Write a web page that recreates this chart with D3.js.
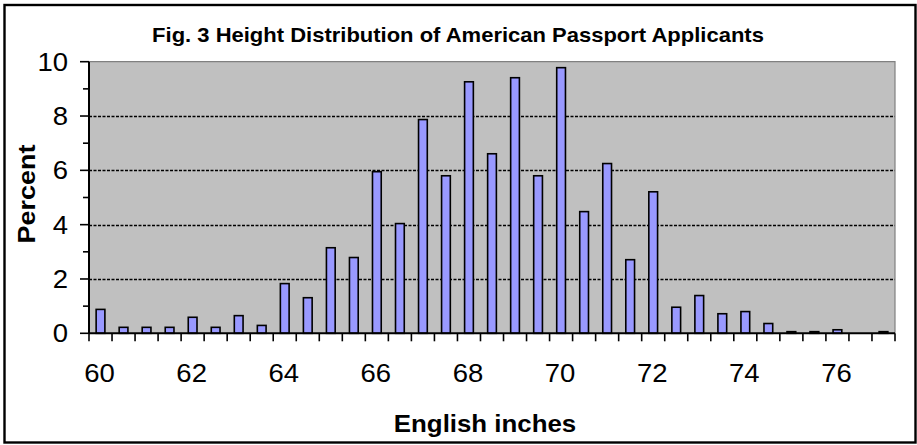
<!DOCTYPE html>
<html>
<head>
<meta charset="utf-8">
<script src="https://cdn.jsdelivr.net/npm/d3@7"></script>
<style>
  html, body { margin: 0; padding: 0; background: #fff; }
  svg { display: block; font-family: "Liberation Sans", Arial, sans-serif; }
</style>
</head>
<body>
<svg id="chart" width="917" height="445"></svg>
<script>
// ---- data ----
const heights = ["60","60.5","61","61.5","62","62.5","63","63.5","64","64.5","65","65.5",
  "66","66.5","67","67.5","68","68.5","69","69.5","70","70.5","71","71.5","72","72.5",
  "73","73.5","74","74.5","75","75.5","76","76.5","77"];
const percents = [0.88,0.22,0.22,0.22,0.59,0.22,0.65,0.29,1.83,1.31,3.15,2.79,
  5.95,4.04,7.87,5.80,9.26,6.61,9.41,5.80,9.78,4.48,6.25,2.71,5.21,0.96,
  1.39,0.72,0.80,0.36,0.06,0.06,0.13,0,0.06];
const xTickLabels = ["60","62","64","66","68","70","72","74","76"];
const yMajorTicks = [0,2,4,6,8,10];
const yMinorTicks = [1,3,5,7,9];
const titleText = "Fig. 3 Height Distribution of American Passport Applicants";
const xTitle = "English inches";
const yTitle = "Percent";

// ---- layout ----
const plot = { left: 89, right: 895, top: 61.7, bottom: 333.3 };
const stretch = 1.1;
const svg = d3.select("#chart");

const x = d3.scaleBand().domain(heights).range([plot.left, plot.right])
  .paddingInner(0.62).paddingOuter(0.31);
const y = d3.scaleLinear().domain([0, 10]).range([plot.bottom, plot.top]);

// outer frame
svg.append("rect").attr("x", 4.5).attr("y", 5).attr("width", 911).attr("height", 437.5)
  .attr("fill", "#fff").attr("stroke", "#000").attr("stroke-width", 2.4);

// plot area
svg.append("rect").attr("x", plot.left).attr("y", plot.top)
  .attr("width", plot.right - plot.left).attr("height", plot.bottom - plot.top)
  .attr("fill", "#C0C0C0");

// gridlines
svg.append("g").selectAll("line").data(yMajorTicks.filter(d => d > 0 && d < 10)).join("line")
  .attr("x1", plot.left).attr("x2", plot.right)
  .attr("y1", d => Math.round(y(d)) + 0.5).attr("y2", d => Math.round(y(d)) + 0.5)
  .attr("stroke", "#000").attr("stroke-width", 1.3).attr("stroke-dasharray", "3,1.5");

// plot border top/right (gray)
svg.append("path")
  .attr("d", `M${plot.left},${plot.top}H${plot.right}V${plot.bottom}`)
  .attr("fill", "none").attr("stroke", "#808080").attr("stroke-width", 1.2);

// bars
svg.append("g").selectAll("rect").data(heights.map((h, i) => ({ h, v: percents[i] })).filter(d => d.v > 0))
  .join("rect")
  .attr("x", d => x(d.h))
  .attr("width", x.bandwidth())
  .attr("y", d => y(d.v))
  .attr("height", d => y(0) - y(d.v))
  .attr("fill", "#9999FF").attr("stroke", "#000").attr("stroke-width", 1.6);

// x axis
const step = x.step();
const xBoundaries = d3.range(heights.length + 1).map(i => plot.left + i * step);
svg.append("line").attr("x1", plot.left).attr("x2", plot.right)
  .attr("y1", plot.bottom).attr("y2", plot.bottom)
  .attr("stroke", "#000").attr("stroke-width", 2);
svg.append("g").selectAll("line").data(xBoundaries).join("line")
  .attr("x1", d => d).attr("x2", d => d)
  .attr("y1", plot.bottom).attr("y2", plot.bottom + 8)
  .attr("stroke", "#000").attr("stroke-width", 1.6);
svg.append("g").selectAll("text").data(xTickLabels).join("text")
  .attr("transform", d => `translate(${x(d) + x.bandwidth() / 2 - 1},382) scale(${stretch},1)`)
  .attr("text-anchor", "middle").attr("font-size", 25).attr("fill", "#000")
  .text(d => d);

// y axis
svg.append("line").attr("x1", plot.left).attr("x2", plot.left)
  .attr("y1", plot.top).attr("y2", plot.bottom)
  .attr("stroke", "#000").attr("stroke-width", 2);
svg.append("g").selectAll("line").data(yMajorTicks).join("line")
  .attr("x1", plot.left - 9).attr("x2", plot.left)
  .attr("y1", d => y(d)).attr("y2", d => y(d))
  .attr("stroke", "#000").attr("stroke-width", 1.6);
svg.append("g").selectAll("line").data(yMinorTicks).join("line")
  .attr("x1", plot.left - 6).attr("x2", plot.left)
  .attr("y1", d => y(d)).attr("y2", d => y(d))
  .attr("stroke", "#000").attr("stroke-width", 1.6);
svg.append("g").selectAll("text").data(yMajorTicks).join("text")
  .attr("transform", d => `translate(68,${y(d) + 9}) scale(${stretch},1)`)
  .attr("text-anchor", "end").attr("font-size", 25).attr("fill", "#000")
  .text(d => d);

// titles
svg.append("text")
  .attr("transform", `translate(458,41.5) scale(${stretch},1)`)
  .attr("text-anchor", "middle").attr("font-size", 20).attr("font-weight", "bold")
  .text(titleText);
svg.append("text")
  .attr("transform", `translate(485,432) scale(${stretch},1)`)
  .attr("text-anchor", "middle").attr("font-size", 23.5).attr("font-weight", "bold")
  .text(xTitle);
svg.append("text")
  .attr("transform", `translate(35,194) rotate(-90) scale(${stretch},1)`)
  .attr("text-anchor", "middle").attr("font-size", 24.5).attr("font-weight", "bold")
  .text(yTitle);
</script>
</body>
</html>
